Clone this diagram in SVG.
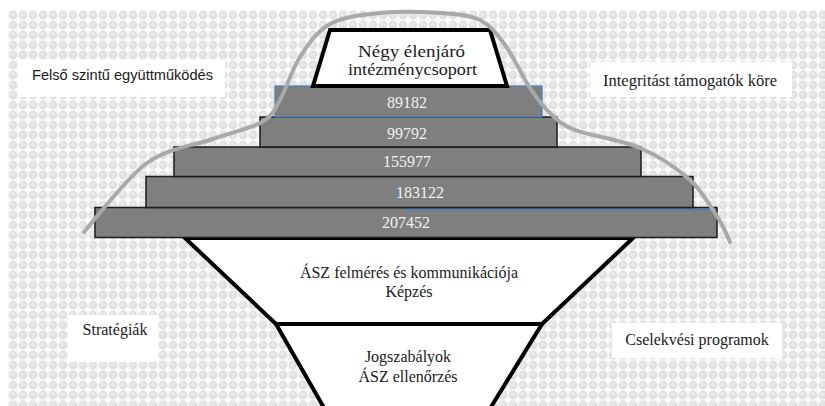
<svg xmlns="http://www.w3.org/2000/svg" width="825" height="406" viewBox="0 0 825 406">
<defs>
<pattern id="bubbles" x="8" y="10" width="10" height="10" patternUnits="userSpaceOnUse">
<rect width="10" height="10" fill="#fafafa"/>
<circle cx="5" cy="5" r="4.4" fill="#e0e0e0"/>
<circle cx="4.4" cy="4.3" r="2.4" fill="#e9e9e9"/>
</pattern>
<style>
.serif{font-family:"Liberation Serif","Times New Roman",serif;fill:#1a1a1a}
.sans{font-family:"Liberation Sans",Arial,sans-serif;fill:#1a1a1a}
.num{font-family:"Liberation Serif","Times New Roman",serif;font-size:16px;fill:#f2f2f2;text-anchor:middle}
.bar{fill:#7f7f7f;stroke:#1a1a1a;stroke-width:1.5}
.bluebar{fill:#7f7f7f;stroke:#4a7ebb;stroke-width:1.2}
.shape{fill:#ffffff;stroke:#000000;stroke-width:4;stroke-linejoin:miter}
.box{fill:#ffffff}
.curve{fill:none;stroke:#a9a9a9;stroke-width:4;stroke-linecap:round}
</style>
</defs>
<rect x="0" y="0" width="825" height="406" fill="#ffffff"/>
<rect x="8" y="10" width="817" height="396" fill="url(#bubbles)"/>

<g id="funnel-upper">
<polygon class="shape" points="185,238 633,238 542,324 276,324"/>
<text class="serif" x="409" y="278" font-size="16" text-anchor="middle">ÁSZ felmérés és kommunikációja</text>
<text class="serif" x="409" y="297" font-size="16" text-anchor="middle">Képzés</text>
</g>
<g id="funnel-lower">
<polygon class="shape" points="276,324 542,324 483,420 331,420"/>
<text class="serif" x="408" y="362" font-size="16" text-anchor="middle">Jogszabályok</text>
<text class="serif" x="408" y="382" font-size="16" text-anchor="middle">ÁSZ ellenőrzés</text>
</g>

<g id="bar-207452">
<rect class="bar" x="95" y="207.5" width="622" height="30"/>
<line x1="404" y1="209.5" x2="716" y2="209.5" stroke="#4a7ebb" stroke-width="1.5"/>
<text class="num" x="406" y="228">207452</text>
</g>
<g id="bar-183122">
<rect class="bar" x="146" y="176.5" width="547" height="31"/>
<text class="num" x="420" y="198">183122</text>
</g>
<g id="bar-155977">
<rect class="bar" x="174" y="147" width="467" height="29.5"/>
<text class="num" x="407" y="167">155977</text>
</g>
<g id="bar-99792">
<rect class="bar" x="260" y="117" width="297" height="30"/>
<text class="num" x="407" y="139">99792</text>
</g>
<g id="bar-89182">
<rect class="bluebar" x="275" y="86" width="267" height="31"/>
<text class="num" x="407" y="108">89182</text>
</g>

<g id="top-group">
<polygon class="shape" points="330,30 490,30 507,86 313,86"/>
<text class="serif" x="358" y="57" font-size="16" textLength="107" lengthAdjust="spacingAndGlyphs">Négy élenjáró</text>
<text class="serif" x="348" y="75" font-size="16" textLength="129" lengthAdjust="spacingAndGlyphs">intézménycsoport</text>
</g>

<g id="connectors">
<path class="curve" d="M84,232 C94.5,220.5 125.5,178.5 147,163 C168.5,147.5 193.8,145.8 213,139 C232.2,132.2 250.8,128.5 262,122 C273.2,115.5 273.7,110.8 280,100 C286.3,89.2 291.7,69.7 300,57 C308.3,44.3 316.7,31.3 330,24 C343.3,16.7 361.7,14.8 380,13 C398.3,11.2 423.3,11.8 440,13 C456.7,14.2 469.2,14.7 480,20 C490.8,25.3 496.7,33.7 505,45 C513.3,56.3 522.5,76.7 530,88 C537.5,99.3 542.5,106 550,113 C557.5,120 560,124.2 575,130 C590,135.8 620.8,139.7 640,148 C659.2,156.3 677,168.3 690,180 C703,191.7 711.3,207.7 718,218 C724.7,228.3 728,238 730,242"/>
</g>

<g id="label-felso">
<rect class="box" x="18" y="60" width="207" height="37"/>
<text class="sans" x="32" y="80" font-size="14.5" textLength="181" lengthAdjust="spacingAndGlyphs">Felső szintű együttműködés</text>
</g>
<g id="label-integritas">
<rect class="box" x="590" y="62" width="202" height="35"/>
<text class="serif" x="603" y="86" font-size="16.5" textLength="174" lengthAdjust="spacingAndGlyphs">Integritást támogatók köre</text>
</g>
<g id="label-strategiak">
<rect class="box" x="68" y="315" width="90" height="47"/>
<text class="serif" x="115" y="335" font-size="16" text-anchor="middle">Stratégiák</text>
</g>
<g id="label-cselekvesi">
<rect class="box" x="612" y="323" width="170" height="35"/>
<text class="serif" x="697" y="345" font-size="16" text-anchor="middle">Cselekvési programok</text>
</g>
</svg>
